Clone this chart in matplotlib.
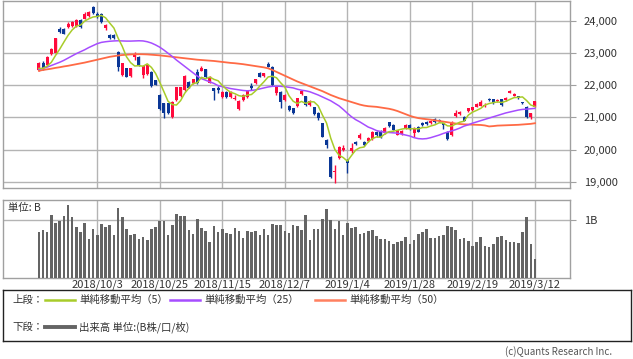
import matplotlib
matplotlib.use('Agg')
import matplotlib.pyplot as plt
import numpy as np
from matplotlib.ticker import FuncFormatter

plt.rcParams['font.family'] = ['Noto Sans CJK JP', 'DejaVu Sans']

opens = [22475, 22683, 22631, 22970, 22994, 23772, 23772, 23824, 23850, 23850,
         24031, 24083, 24160, 24446, 24238, 24238, 23800, 23585, 23585, 23046,
         22320, 22527, 22290, 22890, 22890, 22320, 22350, 22424, 22164, 21698,
         21438, 21438, 21024, 21542, 21660, 21853, 22120, 22061, 22424, 22460,
         22500, 22080, 21905, 21905, 21646, 21801, 21646, 21580, 21250, 21542,
         21646, 21975, 22061, 22390, 22290, 22660, 22579, 21750, 21801, 21542,
         21360, 21283, 21360, 21720, 21660, 21386, 21320, 21150, 20816, 20298,
         19780, 19300, 19728, 19990, 19676, 19944, 20246, 20350, 20246, 20260,
         20320, 20557, 20557, 20505, 20850, 20764, 20460, 20480, 20660, 20750,
         20530, 20700, 20840, 20870, 20830, 20950, 20920, 20816, 20557, 20453,
         21040, 21100, 21024, 21200, 21220, 21335, 21370, 21350, 21580, 21560,
         21500, 21560, 21540, 21770, 21680, 21660, 21470, 21335, 21020, 21340]
highs = [22720, 22750, 22910, 23150, 23490, 23820, 23790, 23960, 24010, 24070,
         24060, 24280, 24330, 24460, 24300, 24260, 23927, 23600, 23610, 23070,
         22700, 22540, 22550, 23046, 22920, 22620, 22650, 22440, 22180, 21720,
         21460, 21460, 21510, 21960, 21960, 22310, 22140, 22210, 22500, 22600,
         22520, 22290, 21920, 21980, 21820, 21820, 21820, 21698, 21540, 21720,
         21850, 22061, 22210, 22410, 22400, 22735, 22600, 21980, 21820, 21720,
         21380, 21300, 21620, 21850, 21680, 21540, 21340, 21170, 20840, 20320,
         19800, 19530, 20110, 20130, 19700, 20194, 20270, 20500, 20270, 20400,
         20580, 20590, 20600, 20690, 20870, 20790, 20610, 20600, 20800, 20780,
         20690, 20720, 20870, 20900, 20920, 20980, 20950, 20830, 20580, 20880,
         21220, 21200, 21040, 21300, 21340, 21450, 21550, 21450, 21600, 21580,
         21580, 21580, 21630, 21860, 21760, 21680, 21490, 21350, 21150, 21520]
lows = [22440, 22470, 22600, 22950, 22970, 23620, 23590, 23790, 23830, 23830,
        23800, 24060, 24140, 24230, 24100, 23950, 23720, 23440, 23460, 22455,
        22300, 22250, 22270, 22787, 22610, 22216, 22320, 21960, 22000, 21230,
        20972, 21100, 20990, 21520, 21640, 21830, 21910, 22040, 22040, 22440,
        22230, 22060, 21542, 21750, 21620, 21620, 21620, 21542, 21230, 21520,
        21620, 21853, 22040, 22250, 22270, 22560, 21990, 21700, 21300, 21520,
        21200, 21120, 21340, 21700, 21360, 21360, 21080, 20920, 20380, 20060,
        19120, 18950, 19700, 19950, 19260, 19900, 20150, 20330, 20100, 20240,
        20300, 20400, 20350, 20480, 20700, 20600, 20440, 20450, 20640, 20620,
        20400, 20540, 20740, 20760, 20800, 20820, 20850, 20650, 20310, 20430,
        21020, 21080, 20880, 21180, 21200, 21320, 21350, 21330, 21510, 21430,
        21480, 21370, 21520, 21750, 21660, 21580, 21420, 20990, 20950, 21320]
closes = [22683, 22527, 22870, 23120, 23461, 23668, 23616, 23927, 23979, 24050,
          23824, 24238, 24290, 24260, 24135, 23979, 23875, 23461, 23490, 22579,
          22683, 22268, 22527, 22960, 22631, 22600, 22631, 21980, 22020, 21250,
          21127, 21127, 21490, 21936, 21940, 22290, 21930, 22190, 22061, 22527,
          22250, 22268, 21830, 21840, 21801, 21646, 21801, 21620, 21520, 21698,
          21830, 21905, 22190, 22268, 22372, 22579, 22009, 21957, 21490, 21698,
          21231, 21150, 21600, 21820, 21380, 21506, 21115, 20987, 20401, 20130,
          19157, 19330, 20090, 20039, 19570, 20039, 20180, 20453, 20142, 20370,
          20555, 20440, 20402, 20666, 20719, 20622, 20593, 20574, 20773, 20649,
          20664, 20556, 20773, 20788, 20883, 20844, 20874, 20751, 20333, 20864,
          21144, 21170, 20900, 21281, 21320, 21431, 21490, 21400, 21528, 21449,
          21556, 21385, 21602, 21822, 21726, 21596, 21456, 21025, 21125, 21503]

ma5 = [22527, 22530, 22600, 22720, 22932, 23129, 23347, 23558, 23730, 23848,
       23879, 24004, 24076, 24132, 24149, 24180, 24108, 23942, 23788, 23477,
       23218, 22896, 22709, 22603, 22614, 22597, 22670, 22560, 22372, 22096,
       21802, 21501, 21403, 21386, 21524, 21757, 21917, 22057, 22082, 22250,
       22207, 22259, 22187, 22143, 21998, 21877, 21784, 21742, 21678, 21657,
       21694, 21715, 21829, 21978, 22113, 22263, 22284, 22237, 22081, 21947,
       21677, 21505, 21434, 21500, 21436, 21491, 21484, 21362, 21078, 20828,
       20358, 20001, 19822, 19749, 19637, 19814, 19984, 20056, 20077, 20237,
       20340, 20392, 20382, 20487, 20556, 20570, 20600, 20635, 20656, 20642,
       20651, 20643, 20683, 20686, 20733, 20769, 20832, 20828, 20737, 20733,
       20793, 20852, 20882, 21072, 21163, 21220, 21284, 21384, 21434, 21460,
       21485, 21464, 21504, 21563, 21618, 21626, 21640, 21525, 21386, 21341]
ma25 = [22500, 22530, 22570, 22620, 22670, 22720, 22780, 22850, 22920, 22990,
        23050, 23110, 23180, 23240, 23300, 23340, 23360, 23375, 23385, 23390,
        23385, 23380, 23380, 23385, 23390, 23385, 23360, 23320, 23260, 23190,
        23100, 23000, 22900, 22790, 22690, 22590, 22490, 22390, 22290, 22210,
        22160, 22110, 22060, 21990, 21960, 21930, 21900, 21880, 21860, 21840,
        21830, 21840, 21860, 21890, 21920, 21950, 21970, 21975, 21970, 21960,
        21940, 21920, 21880, 21850, 21830, 21800, 21750, 21700, 21640, 21580,
        21520, 21440, 21360, 21250, 21130, 21020, 20930, 20860, 20780, 20700,
        20650, 20590, 20560, 20540, 20530, 20520, 20510, 20480, 20450, 20420,
        20370, 20340, 20330, 20340, 20370, 20410, 20450, 20500, 20540, 20580,
        20620, 20670, 20730, 20770, 20820, 20860, 20900, 20940, 20980, 21020,
        21060, 21100, 21140, 21170, 21200, 21230, 21250, 21260, 21270, 21283]
ma50 = [22455, 22480, 22500, 22520, 22545, 22565, 22590, 22610, 22635, 22660,
        22685, 22710, 22740, 22770, 22800, 22830, 22860, 22890, 22910, 22930,
        22945, 22955, 22965, 22970, 22972, 22970, 22965, 22955, 22945, 22935,
        22920, 22905, 22890, 22875, 22860, 22845, 22830, 22815, 22800, 22790,
        22780, 22770, 22760, 22745, 22730, 22715, 22700, 22690, 22675, 22660,
        22640, 22620, 22600, 22580, 22560, 22530, 22480, 22420, 22360, 22300,
        22240, 22180, 22120, 22070, 22020, 21970, 21920, 21870, 21820, 21760,
        21700, 21650, 21600, 21560, 21520, 21480, 21440, 21400, 21370, 21350,
        21340, 21330, 21310, 21290, 21270, 21240, 21200, 21150, 21100, 21050,
        21010, 20980, 20960, 20945, 20930, 20910, 20890, 20870, 20850, 20830,
        20810, 20795, 20785, 20780, 20775, 20770, 20765, 20750, 20720, 20730,
        20745, 20750, 20755, 20760, 20765, 20770, 20780, 20790, 20800, 20820]

volume = [0.786, 0.827, 0.786, 1.087, 0.942, 0.983, 1.069, 1.260, 1.052, 0.873,
          0.792, 0.942, 0.671, 0.844, 0.740, 0.925, 0.879, 0.913, 0.740, 1.214,
          1.052, 0.844, 0.740, 0.757, 0.671, 0.705, 0.653, 0.844, 0.879, 0.983,
          0.983, 0.740, 0.913, 1.098, 1.069, 1.069, 0.827, 0.757, 1.012, 0.861,
          0.809, 0.618, 0.896, 0.792, 0.844, 0.775, 0.757, 0.861, 0.809, 0.688,
          0.809, 0.792, 0.809, 0.740, 0.844, 0.740, 0.931, 0.913, 0.913, 0.809,
          0.775, 0.913, 0.896, 0.827, 1.087, 0.653, 0.844, 0.844, 1.017, 1.191,
          1.000, 0.844, 0.983, 0.740, 0.948, 0.861, 0.879, 0.757, 0.775, 0.809,
          0.827, 0.723, 0.671, 0.671, 0.636, 0.584, 0.618, 0.636, 0.705, 0.584,
          0.653, 0.757, 0.792, 0.844, 0.688, 0.688, 0.723, 0.740, 0.896, 0.879,
          0.827, 0.671, 0.688, 0.636, 0.549, 0.618, 0.705, 0.549, 0.532, 0.584,
          0.705, 0.723, 0.653, 0.618, 0.618, 0.601, 0.792, 1.052, 0.584, 0.324]

tick_idx = [14, 29, 44, 59, 74, 89, 104, 119]
tick_labels = ['2018/10/3', '2018/10/25', '2018/11/15', '2018/12/7',
               '2019/1/4', '2019/1/28', '2019/2/19', '2019/3/12']
price_ticks = [19000, 20000, 21000, 22000, 23000, 24000]

UP = '#ff0a3c'
DOWN = '#0a3796'
GRID = '#b4b4b4'
FRAME = '#a0a0a0'
TXT = '#333333'

W, H = 633, 359
fig = plt.figure(figsize=(W / 100, H / 100), dpi=100)

def px_axes(l, t, r, b):
    return fig.add_axes([l / W, 1 - b / H, (r - l) / W, (b - t) / H])

ax = px_axes(3, 1, 570, 188)
x = np.arange(len(closes))
o = np.array(opens, float)
c = np.array(closes, float)
hi = np.array(highs, float)
lo = np.array(lows, float)
cols = [UP if cc >= oo else DOWN for oo, cc in zip(o, c)]
ax.vlines(x, lo, hi, colors=cols, lw=1.0, zorder=3)
body = np.maximum(np.abs(c - o), 15)
ax.bar(x, body, bottom=np.minimum(o, c), width=0.72, color=cols, zorder=3, linewidth=0)
ax.plot(x, ma50, color='#ff6a45', lw=1.3, zorder=4)
ax.plot(x, ma25, color='#a64dff', lw=1.1, zorder=4)
ax.plot(x, ma5, color='#a8cc2a', lw=1.1, zorder=5)

xl = (-8.6, 127.4)
ax.set_xlim(*xl)
ax.set_ylim(18800, 24630)
ax.set_xticks(tick_idx)
ax.set_xticklabels([])
ax.tick_params(axis='x', length=0)
ax.set_yticks(price_ticks)
ax.yaxis.tick_right()
ax.yaxis.set_major_formatter(FuncFormatter(lambda v, p: f'{int(v):,}'))
ax.tick_params(axis='y', length=4, color=FRAME, labelsize=8, labelcolor=TXT, pad=6)
ax.grid(True, color=GRID, lw=1.0, zorder=0)
for s in ax.spines.values():
    s.set_color(FRAME)
    s.set_linewidth(1.0)

vax = px_axes(3, 200, 570, 278)
vax.bar(x, volume, width=0.62, color='#646464', linewidth=0, zorder=3)
vax.set_xlim(*xl)
vax.set_ylim(0, 1.347)
vax.set_xticks(tick_idx)
vax.set_xticklabels(tick_labels)
vax.tick_params(axis='x', length=0, labelsize=8, labelcolor=TXT, pad=1)
vax.set_yticks([1.0])
vax.set_yticklabels(['1B'])
vax.yaxis.tick_right()
vax.tick_params(axis='y', length=4, color=FRAME, labelsize=8, labelcolor=TXT, pad=6)
vax.grid(True, color=GRID, lw=1.0, zorder=0)
for s in vax.spines.values():
    s.set_color(FRAME)
    s.set_linewidth(1.0)
vax.text(0.009, 0.9, '単位: B', transform=vax.transAxes, fontsize=7.5,
         color=TXT, ha='left', va='center')

lax = px_axes(3, 290, 631, 341)
lax.set_xlim(0, 628)
lax.set_ylim(51, 0)
lax.set_xticks([])
lax.set_yticks([])
for s in lax.spines.values():
    s.set_color('#222222')
    s.set_linewidth(1.0)
ty1, ty2 = 10, 37
lax.text(9, ty1, '上段：', fontsize=7.5, color=TXT, va='center')
lax.text(9, ty2, '下段：', fontsize=7.5, color=TXT, va='center')
entries = [(42, '#a8cc2a', '単純移動平均（5）'),
           (167, '#a64dff', '単純移動平均（25）'),
           (312, '#ff8060', '単純移動平均（50）')]
for xs, col, lab in entries:
    lax.plot([xs, xs + 30], [ty1, ty1], color=col, lw=1.8)
    lax.text(xs + 34, ty1, lab, fontsize=7.5, color=TXT, va='center')
lax.plot([42, 72], [ty2, ty2], color='#646464', lw=2.8)
lax.text(76, ty2, '出来高 単位:(B株/口/枚)', fontsize=7.5, color=TXT, va='center')

fig.text(612 / W, 1 - 352 / H, '(c)Quants Research Inc.', fontsize=7,
         color='#555555', ha='right', va='center')

fig.savefig('out.png', dpi=100)
